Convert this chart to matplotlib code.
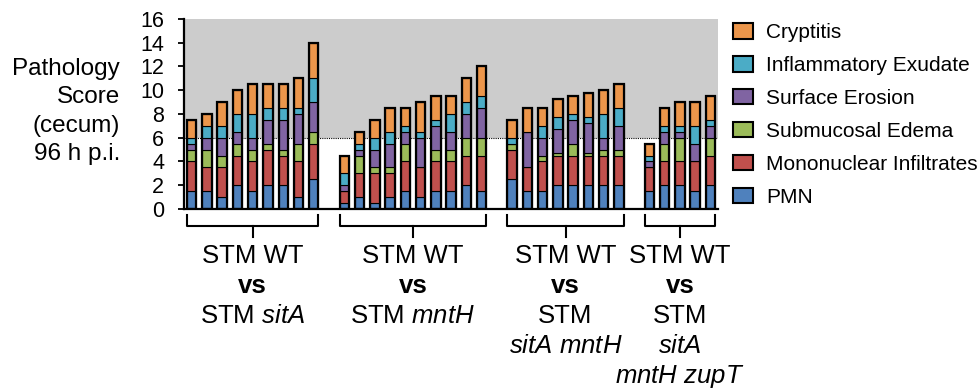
import numpy as np
import matplotlib.pyplot as plt
import matplotlib.transforms as mtransforms
from matplotlib.patches import Patch

plt.rcParams['font.family'] = ['Liberation Sans', 'DejaVu Sans']
plt.rcParams['mathtext.fontset'] = 'custom'
plt.rcParams['mathtext.rm'] = 'Liberation Sans'
plt.rcParams['mathtext.it'] = 'Liberation Sans:italic'
plt.rcParams['mathtext.bf'] = 'Liberation Sans:bold'

# ---------- data ----------
categories = ["PMN", "Mononuclear Infiltrates", "Submucosal Edema",
              "Surface Erosion", "Inflammatory Exudate", "Cryptitis"]
colors = ["#4F81BD", "#C0504D", "#9BBB59", "#8064A2", "#4BACC6", "#EC964B"]

group_sizes = [9, 10, 8, 5]
group_labels = [
    ["STM WT", "vs", "STM $\\mathit{sitA}$"],
    ["STM WT", "vs", "STM $\\mathit{mntH}$"],
    ["STM WT", "vs", "STM", "$\\mathit{sitA\\ mntH}$"],
    ["STM WT", "vs", "STM", "$\\mathit{sitA}$", "$\\mathit{mntH\\ zupT}$"],
]

pmn = [1.5, 1.5, 1, 2, 1.5, 2, 2, 1, 2.5,
       0.5, 1, 0.5, 1, 1.5, 1, 1.5, 1.5, 2, 1.5,
       2.5, 1.5, 1.5, 2, 2, 2, 2, 2,
       1.5, 2, 2, 1.5, 2]
mononuclear = [2.5, 2, 2.5, 2.5, 2.5, 3, 2.5, 3, 3,
               1, 2, 2.5, 2, 2.5, 2.5, 2.5, 2.5, 2.5, 3,
               2.5, 2, 2.5, 2.5, 2.5, 2.5, 2.5, 2.5,
               2, 2, 2, 2.5, 2.5]
edema = [1, 1.5, 1, 1, 1, 0.5, 0.5, 1.5, 1,
         0, 1.5, 0.5, 0.5, 1.5, 0, 1, 1, 1.5, 1.5,
         0.5, 0, 0.5, 0.25, 1, 0.25, 0.5, 0.5,
         0, 1.5, 2, 0, 1.5]
erosion = [0.5, 1, 1.5, 1, 1, 2, 2.5, 2.5, 2.5,
           0.5, 0.5, 1.5, 2, 1, 2.5, 2, 1.5, 2, 2.5,
           0, 3, 1.5, 2, 2, 2.5, 1, 2,
           0.5, 1, 0.5, 1.5, 1]
exudate = [0.5, 1, 1, 1.5, 2, 1, 1, 0.5, 2,
           1, 0.5, 1, 1, 0.5, 0.5, 0.5, 1.5, 1, 1,
           0.5, 0, 1, 1, 0.5, 0.5, 2, 1.5,
           0.5, 0.5, 0.5, 1.5, 0.5]
cryptitis = [1.5, 1, 2, 2, 2.5, 2, 2, 2.5, 3,
             1.5, 1, 1.5, 2, 1.5, 2.5, 2, 1.5, 2, 2.5,
             1.5, 2, 1.5, 1.5, 1.5, 2, 2, 2,
             1, 1.5, 2, 2, 2]
series = [pmn, mononuclear, edema, erosion, exudate, cryptitis]

# x positions: one empty slot between groups
x = []
starts = []
pos = 0
for n in group_sizes:
    starts.append(pos)
    x.extend(range(pos, pos + n))
    pos += n + 1
x = np.array(x)

fig = plt.figure(figsize=(9.79, 3.91), dpi=100)
ax = fig.add_axes([0.188, 0.4655, 0.5455, 0.486])

ax.axhspan(6, 16, color="#CCCCCC", zorder=0, lw=0)
ax.axhline(6, color="black", ls=(0, (1, 1)), lw=0.8, zorder=1)

w = 0.62
bottom = np.zeros(len(x))
for vals, c in zip(series, colors):
    vals = np.array(vals, dtype=float)
    ax.bar(x, vals, w, bottom=bottom, color=c, edgecolor="black", lw=0.8, zorder=2)
    bottom += vals
ax.bar(x, bottom, w, fill=False, edgecolor="black", lw=1.6, zorder=3)

ax.set_xlim(-0.5, x[-1] + 0.5)
ax.set_ylim(0, 16)
ax.set_yticks(np.arange(0, 17, 2))
ax.set_xticks([])
ax.tick_params(axis="y", labelsize=15.5, length=4.3, width=1.3, pad=10)
for s in ["top", "right"]:
    ax.spines[s].set_visible(False)
for s in ["left", "bottom"]:
    ax.spines[s].set_linewidth(1.6)

# brackets and group labels
trans = mtransforms.blended_transform_factory(ax.transData, fig.transFigure)
y_top, y_mid, y_low = 1 - 215 / 391, 1 - 226 / 391, 1 - 237 / 391
line_y = [1 - v / 391 for v in (256, 286, 316, 346, 376)]
for s0, n, lines in zip(starts, group_sizes, group_labels):
    x0, x1 = s0 - w / 2, s0 + n - 1 + w / 2
    xc = (x0 + x1) / 2
    ax.plot([x0, x0, x1, x1], [y_top, y_mid, y_mid, y_top], color="black",
            lw=1.5, transform=trans, clip_on=False)
    ax.plot([xc, xc], [y_mid, y_low], color="black", lw=1.5,
            transform=trans, clip_on=False)
    for txt, yy in zip(lines, line_y):
        fig.text(xc, yy, txt, transform=trans, ha="center", va="center",
                 fontsize=18.5, fontweight="bold" if txt == "vs" else "normal")

fig.text(0.1226, 1 - 111.5 / 391, "Pathology\nScore\n(cecum)\n96 h p.i.",
         ha="right", va="center", multialignment="right", fontsize=17.5,
         linespacing=1.36)

handles = [Patch(facecolor=c, edgecolor="black", lw=1.5, label=l)
           for c, l in zip(colors, categories)][::-1]
fig.legend(handles=handles, loc="upper left", bbox_to_anchor=(733 / 979, 1 - 23 / 391),
           frameon=False, fontsize=15, borderpad=0, borderaxespad=0,
           handlelength=0.96, handleheight=0.77, handletextpad=0.63,
           labelspacing=0.67)

fig.savefig("out.png", dpi=100)
